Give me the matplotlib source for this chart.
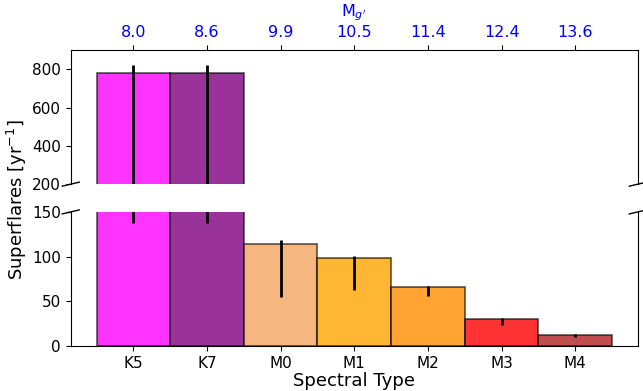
import matplotlib
matplotlib.use('Agg')
import matplotlib.pyplot as plt
from matplotlib.colors import to_rgba
import numpy as np

# Superflare rates per spectral type
spectral_types = ['K5', 'K7', 'M0', 'M1', 'M2', 'M3', 'M4']
abs_mag = ['8.0', '8.6', '9.9', '10.5', '11.4', '12.4', '13.6']
rates = [778, 778, 114, 99, 66, 30, 12]
err_low = [640, 640, 59, 36, 10, 6, 1.5]
err_high = [44, 44, 5, 2, 1, 1.5, 1]
colors = ['magenta', 'purple', 'sandybrown', 'orange', 'darkorange', 'red', 'firebrick']

x = np.arange(len(spectral_types))
face = [to_rgba(c, 0.8) for c in colors]

fig = plt.figure(figsize=(6.43, 3.91), dpi=100)
ax1 = fig.add_axes([0.110, 0.529, 0.882, 0.343])
ax2 = fig.add_axes([0.110, 0.115, 0.882, 0.343])

for ax in (ax1, ax2):
    ax.bar(x, rates, width=1.0, color=face, edgecolor=(0, 0, 0, 0.6), linewidth=1.3)
    ax.errorbar(x, rates, yerr=[err_low, err_high], fmt='none', ecolor='k', elinewidth=2)
    ax.set_xlim(-0.85, 6.85)
    ax.tick_params(labelsize=11)

ax1.set_ylim(200, 900)
ax2.set_ylim(0, 150)
ax1.set_yticks([200, 400, 600, 800])
ax2.set_yticks([0, 50, 100, 150])

# hide the spines between the two panels
ax1.spines['bottom'].set_visible(False)
ax2.spines['top'].set_visible(False)

# magnitude labels along the top
ax1.xaxis.tick_top()
ax1.set_xticks(x)
ax1.set_xticklabels(abs_mag, color='blue', fontsize=11.5)
ax1.xaxis.set_label_position('top')
ax1.set_xlabel("M$_{g'}$", color='blue', fontsize=11.5)
ax1.xaxis.set_label_coords(0.5, 1.25)

ax2.set_xticks(x)
ax2.set_xticklabels(spectral_types)
ax2.set_xlabel('Spectral Type', fontsize=13, labelpad=1)

fig.text(0.026, 0.49, 'Superflares [yr$^{-1}$]', rotation=90, fontsize=13,
         ha='center', va='center')

# diagonal break marks
d = 0.015
kw = dict(transform=ax1.transAxes, color='k', clip_on=False, lw=1)
ax1.plot((-d, +d), (-d, +d), **kw)
ax1.plot((1 - d, 1 + d), (-d, +d), **kw)
kw.update(transform=ax2.transAxes)
ax2.plot((-d, +d), (1 - d, 1 + d), **kw)
ax2.plot((1 - d, 1 + d), (1 - d, 1 + d), **kw)

fig.savefig('out.png', dpi=100)
